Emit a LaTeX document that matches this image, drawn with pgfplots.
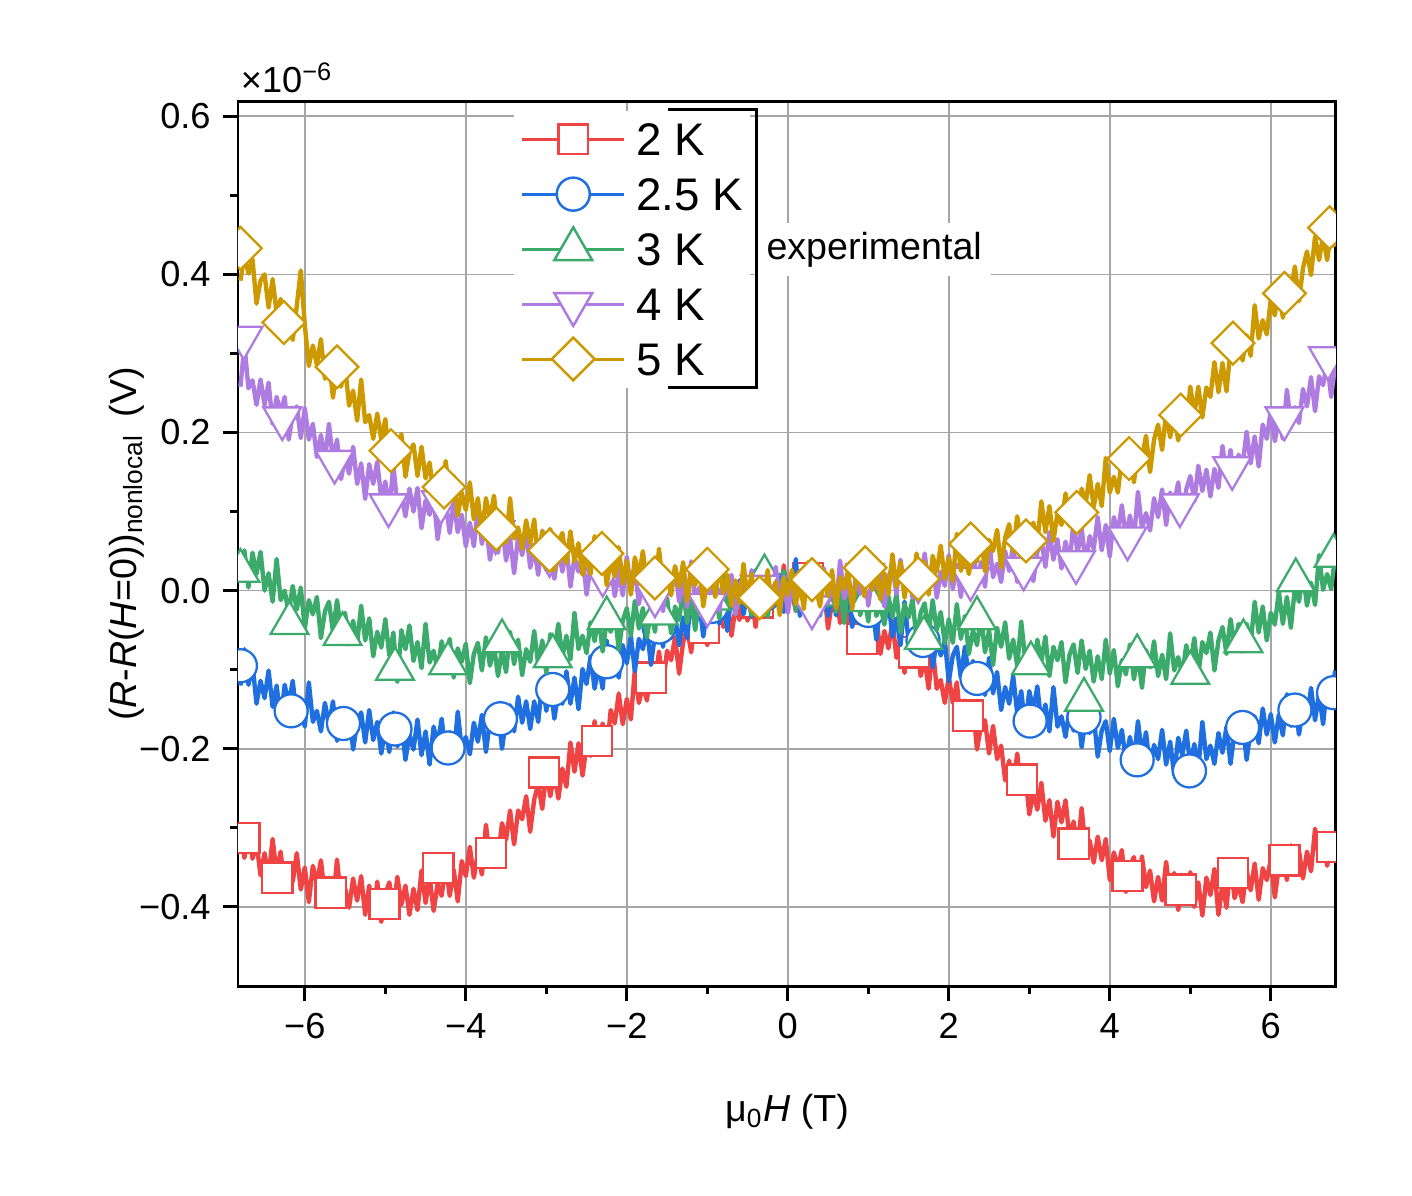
\documentclass[border=0pt]{standalone}
\usepackage{fontspec}
\setmainfont{Liberation Sans}
\usepackage{pgfplots}
\usepackage{pgfplotstable}
\pgfplotsset{compat=1.18}

\definecolor{c2}{HTML}{F04343}
\definecolor{c25}{HTML}{1F6FE0}
\definecolor{c3}{HTML}{3BAA6B}
\definecolor{c4}{HTML}{AE7BE0}
\definecolor{c5}{HTML}{CC9900}
\definecolor{gridgray}{HTML}{A6A6A6}

% field (T) and signal (nV) for 2, 2.5, 3, 4, 5 K
\pgfplotstableread{
x r b g p d
-6.80 -298 -120 25 258 392
-6.75 -338 -74 51 310 424
-6.70 -299 -119 4 256 401
-6.65 -339 -93 48 266 419
-6.60 -319 -143 21 235 363
-6.55 -360 -114 49 267 392
-6.50 -332 -136 0 235 400
-6.45 -362 -101 22 263 358
-6.40 -314 -147 -14 211 394
-6.35 -358 -120 40 245 351
-6.30 -330 -164 -12 225 369
-6.25 -378 -119 0 245 325
-6.20 -348 -144 -28 191 351
-6.15 -368 -114 6 223 317
-6.10 -332 -161 -24 233 360
-6.05 -378 -137 4 193 405
-6.00 -350 -172 -48 231 336
-5.95 -394 -116 -12 191 284
-5.90 -348 -166 -30 211 310
-5.85 -371 -152 -8 169 286
-5.80 -341 -178 -60 197 318
-5.75 -387 -142 -26 165 268
-5.70 -363 -170 -14 211 292
-5.65 -397 -140 -52 165 244
-5.60 -340 -190 -12 191 286
-5.55 -390 -154 -50 141 258
-5.50 -376 -172 -28 169 284
-5.45 -401 -150 -68 148 234
-5.40 -364 -201 -38 182 253
-5.35 -392 -167 -67 135 215
-5.30 -361 -154 -19 161 267
-5.25 -410 -192 -63 116 213
-5.20 -373 -151 -35 160 222
-5.15 -414 -189 -83 135 192
-5.10 -368 -166 -52 163 224
-5.05 -419 -206 -72 116 191
-5.00 -384 -175 -36 138 217
-4.95 -369 -204 -82 103 165
-4.90 -405 -154 -53 158 198
-4.85 -362 -197 -115 108 178
-4.80 -397 -167 -50 121 198
-4.75 -373 -214 -74 94 144
-4.70 -410 -182 -44 129 175
-4.65 -377 -201 -89 100 185
-4.60 -404 -163 -65 130 145
-4.55 -354 -208 -98 79 182
-4.50 -395 -178 -42 114 142
-4.45 -362 -220 -91 96 162
-4.40 -405 -172 -76 118 121
-4.35 -371 -194 -101 65 149
-4.30 -386 -162 -64 99 118
-4.25 -345 -206 -92 111 164
-4.20 -386 -179 -61 73 118
-4.15 -353 -211 -110 113 145
-4.10 -393 -153 -73 74 95
-4.05 -342 -201 -90 96 124
-4.00 -361 -185 -67 56 102
-3.95 -324 -207 -117 86 137
-3.90 -363 -167 -80 56 90
-3.85 -332 -191 -66 103 117
-3.80 -359 -157 -101 59 72
-3.75 -296 -204 -59 87 117
-3.70 -339 -164 -95 39 91
-3.65 -318 -178 -70 69 120
-3.60 -337 -152 -108 48 73
-3.55 -294 -200 -75 84 96
-3.50 -315 -162 -103 38 61
-3.45 -278 -145 -52 66 117
-3.40 -321 -178 -93 22 66
-3.35 -278 -134 -62 69 80
-3.30 -289 -167 -107 45 53
-3.25 -260 -140 -74 75 89
-3.20 -305 -175 -90 29 60
-3.15 -264 -140 -51 53 90
-3.10 -245 -166 -94 20 39
-3.05 -276 -113 -63 76 75
-3.00 -229 -152 -104 26 56
-2.95 -260 -119 -55 41 78
-2.90 -230 -162 -75 15 26
-2.85 -263 -128 -42 52 61
-2.80 -225 -143 -84 24 73
-2.75 -248 -102 -57 55 35
-2.70 -192 -143 -87 5 75
-2.65 -229 -110 -28 42 37
-2.60 -193 -150 -74 24 60
-2.55 -234 -99 -57 47 20
-2.50 -196 -118 -79 -5 50
-2.45 -209 -83 -40 30 21
-2.40 -165 -124 -64 43 69
-2.35 -204 -95 -31 5 26
-2.30 -168 -124 -77 46 54
-2.25 -205 -63 -38 9 7
-2.20 -151 -108 -52 32 38
-2.15 -168 -89 -27 -7 18
-2.10 -130 -110 -75 23 55
-2.05 -169 -69 -38 -6 9
-2.00 -137 -92 -22 43 38
-1.95 -163 -57 -57 0 -5
-1.90 -100 -102 -13 29 42
-1.85 -142 -61 -48 -17 19
-1.80 -120 -74 -22 14 50
-1.75 -139 -47 -59 -5 5
-1.70 -95 -94 -25 32 29
-1.65 -115 -55 -52 -13 -4
-1.60 -77 -38 0 17 53
-1.55 -120 -71 -41 -26 4
-1.50 -76 -26 -9 21 19
-1.45 -88 -60 -54 -1 -6
-1.40 -59 -33 -20 30 31
-1.35 -105 -69 -37 -14 5
-1.30 -65 -34 2 11 36
-1.25 -47 -60 -41 -21 -13
-1.20 -78 -7 -9 37 24
-1.15 -32 -47 -50 -12 7
-1.10 -64 -14 -1 4 31
-1.05 -35 -58 -21 -21 -20
-1.00 -69 -23 12 17 15
-0.95 -34 -39 -31 -9 28
-0.90 -60 0 -4 23 -8
-0.85 -7 -42 -35 -25 33
-0.80 -46 -10 24 13 -3
-0.75 -14 -51 -24 -4 20
-0.70 -57 -1 -7 20 -19
-0.65 -22 -21 -30 -30 13
-0.60 -37 13 9 6 -16
-0.55 3 -30 -16 20 34
-0.50 -38 -2 17 -16 -9
-0.45 -6 -33 -31 26 21
-0.40 -46 26 8 -10 -26
-0.35 3 -21 -8 14 6
-0.30 -17 -4 17 -24 -12
-0.25 17 -27 -33 8 26
-0.20 -25 12 4 -20 -19
-0.15 3 -13 18 30 11
-0.10 -28 20 -17 -12 -31
-0.05 32 -27 25 18 16
0.00 -14 12 -10 -28 -6
0.05 0 -5 13 4 26
0.10 -26 40 -25 -14 -17
0.15 11 -32 6 25 9
0.20 -17 3 -22 -19 -23
0.25 13 16 27 11 36
0.30 -37 -21 -15 -31 -12
0.35 -1 20 14 17 4
0.40 -18 -16 -32 -4 -20
0.45 4 7 -1 28 19
0.50 -48 -32 -19 -16 -7
0.55 -14 -2 18 11 26
0.60 -3 -31 -27 -21 -22
0.65 -41 17 2 38 17
0.70 -2 -27 -41 -10 2
0.75 -40 1 6 7 27
0.80 -18 -46 -17 -17 -23
0.85 -59 -16 14 22 14
0.90 -29 -36 -31 -4 29
0.95 -60 1 -6 29 -7
1.00 -12 -45 -39 -19 36
1.05 -57 -18 17 20 1
1.10 -31 -62 -32 4 26
1.15 -80 -17 -18 29 -11
1.20 -51 -41 -43 -20 22
1.25 -73 -12 -7 17 -5
1.30 -38 -58 -34 31 46
1.35 -85 -35 -4 -4 5
1.40 -58 -69 -53 39 36
1.45 -104 -14 -17 3 -9
1.50 -59 -64 -34 28 24
1.55 -86 -52 -11 -9 7
1.60 -59 -79 -63 23 47
1.65 -108 -45 -28 -4 4
1.70 -87 -74 -16 47 36
1.75 -124 -46 -53 6 -5
1.80 -71 -97 -12 36 44
1.85 -124 -63 -50 -9 24
1.90 -113 -82 -27 24 57
1.95 -142 -62 -67 6 15
2.00 -109 -115 -36 45 42
2.05 -142 -82 -66 2 12
2.10 -116 -71 -17 33 72
2.15 -171 -110 -61 -8 25
2.20 -139 -71 -32 41 43
2.25 -162 -110 -80 20 21
2.30 -144 -89 -50 52 61
2.35 -201 -130 -69 9 37
2.40 -171 -101 -33 36 70
2.45 -164 -132 -78 5 24
2.50 -206 -85 -50 64 64
2.55 -171 -130 -94 17 50
2.60 -213 -103 -47 34 77
2.65 -196 -151 -71 11 29
2.70 -240 -122 -40 50 67
2.75 -215 -143 -86 25 84
2.80 -249 -108 -62 58 50
2.85 -206 -155 -95 11 94
2.90 -254 -127 -39 50 60
2.95 -231 -172 -88 35 87
3.00 -283 -127 -74 60 51
3.05 -255 -151 -99 12 86
3.10 -277 -121 -62 49 60
3.15 -243 -168 -89 65 113
3.20 -291 -144 -58 30 74
3.25 -265 -178 -108 74 107
3.30 -311 -122 -71 39 63
3.35 -267 -172 -88 65 98
3.40 -293 -159 -65 28 83
3.45 -265 -185 -116 62 123
3.50 -313 -149 -81 35 82
3.55 -292 -177 -68 87 116
3.60 -328 -147 -104 47 77
3.65 -275 -198 -63 79 129
3.70 -327 -162 -99 35 110
3.75 -316 -180 -76 69 146
3.80 -344 -158 -115 53 106
3.85 -311 -210 -83 93 135
3.90 -341 -177 -112 51 107
3.95 -314 -165 -62 83 168
4.00 -366 -203 -105 43 124
4.05 -331 -162 -75 93 144
4.10 -350 -199 -121 74 124
4.15 -328 -176 -88 108 167
4.20 -381 -215 -106 66 145
4.25 -348 -185 -68 95 181
4.30 -337 -214 -112 65 137
4.35 -376 -165 -82 125 179
4.40 -336 -208 -123 79 168
4.45 -375 -179 -75 98 196
4.50 -354 -226 -97 76 150
4.55 -393 -195 -64 117 191
4.60 -362 -213 -108 93 210
4.65 -392 -176 -81 128 178
4.70 -343 -220 -112 83 225
4.75 -386 -191 -54 124 194
4.80 -357 -233 -101 110 223
4.85 -404 -186 -84 137 190
4.90 -374 -208 -107 90 226
4.95 -393 -177 -69 128 203
5.00 -356 -221 -94 145 258
5.05 -400 -194 -60 113 222
5.10 -369 -225 -106 158 258
5.15 -411 -166 -65 126 219
5.20 -363 -213 -79 153 257
5.25 -385 -196 -53 119 245
5.30 -352 -219 -101 154 289
5.35 -410 -180 -63 130 251
5.40 -370 -205 -46 183 288
5.45 -401 -172 -80 145 252
5.50 -343 -219 -36 178 306
5.55 -389 -179 -69 136 290
5.60 -372 -192 -42 172 328
5.65 -394 -166 -77 159 291
5.70 -354 -214 -42 201 323
5.75 -379 -176 -67 161 297
5.80 -345 -159 -14 195 361
5.85 -391 -193 -53 157 319
5.90 -351 -149 -20 210 342
5.95 -366 -182 -63 192 324
6.00 -340 -156 -28 228 368
6.05 -388 -192 -43 189 348
6.10 -349 -157 -1 219 387
6.15 -333 -183 -42 192 345
6.20 -366 -131 -8 254 389
6.25 -322 -171 -47 211 380
6.30 -355 -138 4 232 410
6.35 -329 -182 -14 212 366
6.40 -364 -148 21 255 408
6.45 -330 -163 -19 233 429
6.50 -355 -123 10 270 399
6.55 -301 -164 -18 227 448
6.60 -339 -130 45 271 418
6.65 -306 -169 1 260 449
6.70 -348 -118 21 289 418
6.75 -312 -136 2 245 456
6.80 -326 -101 44 286 435
}\nonlocal

\begin{document}
\begin{tikzpicture}
\path (-2.38cm,-2.09cm) rectangle (11.74cm,9.86cm);
\begin{axis}[
  scale only axis, width=10.98cm, height=8.84cm,
  xmin=-6.83, xmax=6.81, ymin=-500, ymax=618,
  axis line style={line width=0.85pt},
  every tick/.style={black, line width=0.85pt},
  tick align=outside,
  major tick length=0.15cm, minor tick length=0.08cm,
  xtick={-6,-4,-2,0,2,4,6}, xticklabels={−6,−4,−2,0,2,4,6},
  minor xtick={-5,-3,-1,1,3,5},
  ytick={-400,-200,0,200,400,600},
  yticklabels={−0.4,−0.2,0.0,0.2,0.4,0.6},
  minor ytick={-300,-100,100,300,500},
  xtick pos=left, ytick pos=left,
  grid=major, major grid style={gridgray, line width=0.45pt},
  ticklabel style={font=\fontsize{10.3}{12}\selectfont},
  xlabel={μ\textsubscript{0}\textit{H} (T)},
  ylabel={(\textit{R}-\textit{R}(\textit{H}=0))\textsubscript{nonlocal}\hspace{0.45em}(V)},
  xlabel style={at={(axis description cs:0.5,-0.1538)}, anchor=base,
    font=\fontsize{10.7}{12}\selectfont},
  ylabel style={at={(axis description cs:-0.092,0.5)}, anchor=base,
    font=\fontsize{10.7}{12}\selectfont},
  clip marker paths=true,
  legend style={at={(0.2505,0.991)}, anchor=north west, draw=none, fill=white,
    inner xsep=2pt, inner ysep=0.3pt, row sep=0pt, column sep=3pt,
    font=\fontsize{13}{15}\selectfont,
    nodes={inner sep=0pt, text height=9.4pt, text depth=0pt}},
  legend cell align=left,
  legend image code/.code={
    \path[draw=none, fill=none] (0cm,-7.82pt) -- (0cm,7.82pt);
    \draw[mark repeat=2,mark phase=2,#1] plot coordinates {(0cm,0cm) (0.51cm,0cm) (1.02cm,0cm)};},
]
\addlegendimage{c2, line width=0.85pt, mark=square*, mark size=4.2pt, mark options={fill=white, line width=0.7pt}}
\addlegendimage{c25, line width=0.85pt, mark=*, mark size=4.7pt, mark options={fill=white, line width=0.7pt}}
\addlegendimage{c3, line width=0.85pt, mark=triangle*, mark size=6.2pt, mark options={fill=white, line width=0.7pt}}
\addlegendimage{c4, line width=0.85pt, mark=triangle*, mark size=6.2pt, mark options={rotate=180, fill=white, line width=0.7pt}}
\addlegendimage{c5, line width=0.85pt, mark=square*, mark size=4.3pt, mark options={rotate=45, fill=white, line width=0.7pt}}
\legend{2 K, 2.5 K, 3 K, 4 K, 5 K}

% 2 K
\addplot[c2, line width=1.25pt, line join=round, forget plot] table[x=x, y=r] {\nonlocal};
\addplot[c2, only marks, mark=square*, mark size=4.3pt, mark options={fill=white, line width=0.65pt}, forget plot] coordinates {
(-6.75,-313) (-6.34,-363) (-5.68,-382) (-5.01,-396) (-4.34,-351) (-3.69,-332) (-3.03,-230) (-2.37,-190) (-1.70,-110) (-1.04,-47) (-0.37,-15)
(0.25,16) (0.92,-61) (1.57,-78) (2.24,-158) (2.91,-239) (3.55,-320) (4.22,-361) (4.88,-378) (5.53,-357) (6.17,-341) (6.76,-324)};

% 2.5 K
\addplot[c25, line width=1.25pt, line join=round, forget plot] table[x=x, y=b] {\nonlocal};
\addplot[c25, only marks, mark=*, mark size=4.7pt, mark options={fill=white, line width=0.65pt}, forget plot] coordinates {
(-6.80,-95) (-6.17,-152) (-5.52,-168) (-4.88,-175) (-4.22,-199) (-3.57,-162) (-2.92,-125) (-2.25,-90) (-1.60,-46) (-0.95,-20) (-0.30,-5)
(0.35,0) (1.00,-25) (1.68,-63) (2.35,-111) (3.01,-165) (3.68,-160) (4.34,-214) (4.99,-228) (5.65,-173) (6.30,-151) (6.78,-129)};

% 3 K
\addplot[c3, line width=1.25pt, line join=round, forget plot] table[x=x, y=g] {\nonlocal};
\addplot[c3, only marks, mark=triangle*, mark size=6.2pt, mark options={fill=white, line width=0.65pt}, forget plot] coordinates {
(-6.80,25) (-6.19,-41) (-5.53,-55) (-4.88,-99) (-4.22,-92) (-3.55,-64) (-2.92,-83) (-2.25,-35) (-1.60,-29) (-0.95,-10) (-0.29,18)
(0.35,-5) (1.00,-12) (1.69,-60) (2.35,-35) (3.02,-92) (3.68,-138) (4.34,-83) (5.00,-104) (5.66,-64) (6.31,13) (6.78,44)};

% 4 K
\addplot[c4, line width=1.25pt, line join=round, forget plot] table[x=x, y=p] {\nonlocal};
\addplot[c4, only marks, mark=triangle*, mark size=6.2pt, mark options={rotate=180, fill=white, line width=0.65pt}, forget plot] coordinates {
(-6.76,320) (-6.28,218) (-5.63,163) (-4.96,108) (-4.31,112) (-3.63,74) (-2.96,45) (-2.30,20) (-1.65,-6) (-1.00,-18) (-0.35,5)
(0.30,-21) (0.96,20) (1.62,12) (2.27,15) (2.93,28) (3.58,36) (4.22,66) (4.87,108) (5.52,155) (6.17,218) (6.71,294)};

% 5 K
\addplot[c5, line width=1.25pt, line join=round, forget plot] table[x=x, y=d] {\nonlocal};
\addplot[c5, only marks, mark=square*, mark size=4.3pt, mark options={rotate=45, fill=white, line width=0.65pt}, forget plot] coordinates {
(-6.80,433) (-6.26,339) (-5.60,283) (-4.93,177) (-4.27,131) (-3.62,78) (-2.96,51) (-2.31,47) (-1.65,16) (-1.00,27) (-0.35,-9)
(0.30,14) (0.96,29) (1.62,15) (2.27,59) (2.96,63) (3.59,99) (4.24,167) (4.88,222) (5.53,313) (6.17,376) (6.73,459)};

\coordinate (bt) at (axis description cs:0.3916,0.991);
\coordinate (br) at (axis description cs:0.4718,0.6765);
\coordinate (ex) at (axis description cs:0.4727,0.8331);
\coordinate (tl) at (axis description cs:0.002,1.0102);
\end{axis}
\draw[line width=0.85pt] (bt) -| (br) -- (br -| bt);
\node[fill=white, anchor=west, inner xsep=2.5pt, inner ysep=2.5pt, text height=7.7pt, text depth=2.3pt,
  font=\fontsize{10.7}{12}\selectfont] at (ex) {experimental};
\node[anchor=base west, inner sep=0pt, font=\fontsize{10.3}{12}\selectfont] at (tl) {×10\textsuperscript{−6}};
\end{tikzpicture}
\end{document}
